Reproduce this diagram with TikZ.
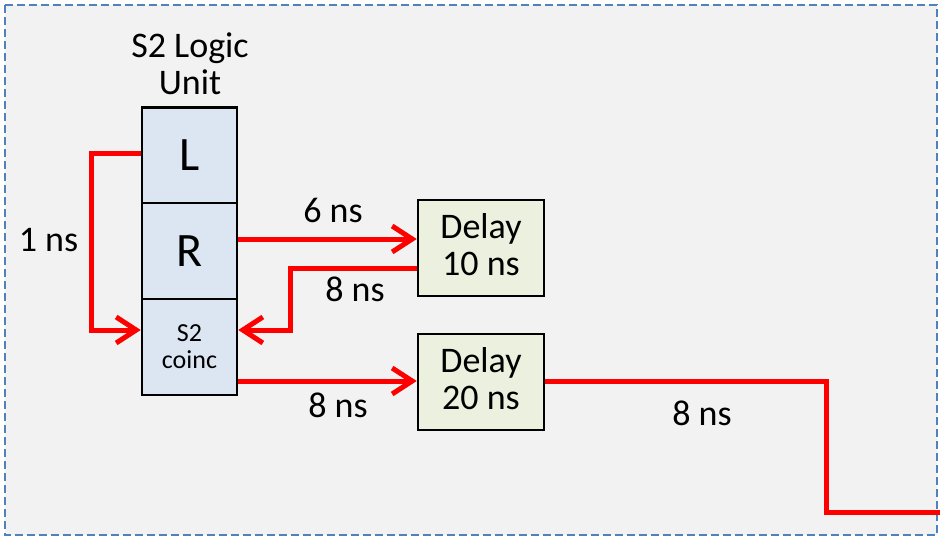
\documentclass[tikz,border=0pt]{standalone}
\usepackage{fontspec}
\setmainfont{Carlito}
\usetikzlibrary{arrows.meta}
\definecolor{bgray}{HTML}{F2F2F2}
\definecolor{bordblue}{HTML}{4F81BD}
\definecolor{cellblue}{HTML}{DCE6F2}
\definecolor{delaygreen}{HTML}{EBF1DE}
\definecolor{wirered}{HTML}{FF0000}
\tikzset{
  cellbox/.style={draw=black, line width=2.5pt, fill=cellblue, minimum width=95pt, minimum height=96pt, inner sep=0pt, align=center},
  delaybox/.style={draw=black, line width=2.5pt, fill=delaygreen, minimum width=126pt, minimum height=96pt, inner sep=0pt, align=center},
  wire/.style={draw=wirered, line width=5pt},
  wirearrow/.style={wire, -{Straight Barb[length=20pt,width=26pt,line width=5pt]}},
  lbl/.style={inner sep=0pt, font=\fontsize{36}{37}\selectfont}
}
\begin{document}
\begin{tikzpicture}[x=1pt,y=-1pt]
\useasboundingbox (0,0) rectangle (940,538);
\path[fill=white] (0,0) rectangle (940,538);
\draw[bordblue, fill=bgray, line width=2.5pt, dash pattern=on 8pt off 4pt] (5,5) rectangle (937,535);

\node[inner sep=0pt, align=center, font=\fontsize{36}{37}\selectfont] (title) at (190,64) {S2 Logic\\Unit};

\node[cellbox, font=\fontsize{48}{50}\selectfont] (L) at (189.5,155.5) {L};
\node[cellbox, font=\fontsize{48}{50}\selectfont] (R) at (189.5,251) {R};
\node[cellbox, font=\fontsize{26}{27}\selectfont] (C) at (189.5,347) {S2\\coinc};

\node[delaybox] (D1) at (481,248) {};
\node[delaybox] (D2) at (481,382) {};
\node[inner sep=0pt, align=center, font=\fontsize{36}{37}\selectfont] (D1t) at (481,245) {Delay\\10 ns};
\node[inner sep=0pt, align=center, font=\fontsize{36}{37}\selectfont] (D2t) at (481,379) {Delay\\20 ns};

\coordinate (a1) at (91,153);
\coordinate (a2) at (91,330);
\coordinate (b1) at (290,268);
\coordinate (b2) at (290,330);
\coordinate (c1) at (826,381);
\coordinate (c2) at (826,512);
\coordinate (c3) at (940,512);

% L -> coinc
\draw[wirearrow] (L.west |- a1) -- (a1) -- (a2) -- (C.west |- a2);
% R -> Delay 10
\draw[wirearrow] (R.east |- 0,239) -- (D1.west |- 0,239);
% Delay 10 -> coinc
\draw[wirearrow] (D1.west |- b1) -- (b1) -- (b2) -- (C.east |- b2);
% coinc -> Delay 20
\draw[wirearrow] (C.east |- 0,381) -- (D2.west |- 0,381);
% Delay 20 -> out
\draw[wire] (D2.east |- c1) -- (c1) -- (c2) -- (c3);

\node[lbl] (n1) at (48.5,240) {1 ns};
\node[lbl] (n6) at (333,210) {6 ns};
\node[lbl] (n8a) at (355,289) {8 ns};
\node[lbl] (n8b) at (338,405) {8 ns};
\node[lbl] (n8c) at (702,413) {8 ns};
\end{tikzpicture}
\end{document}
